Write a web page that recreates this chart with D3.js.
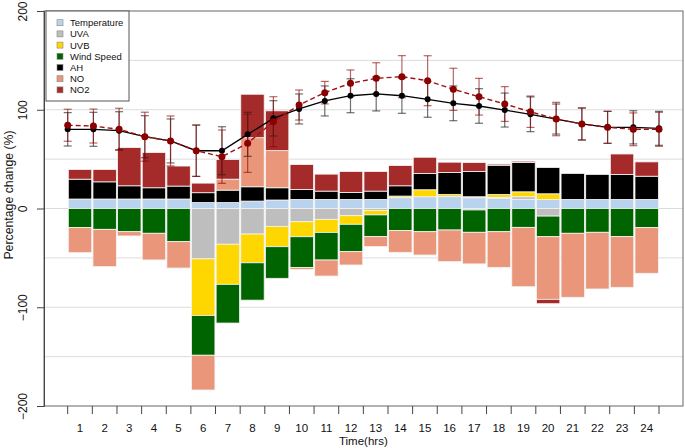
<!DOCTYPE html>
<html><head><meta charset="utf-8">
<script src="https://cdn.jsdelivr.net/npm/d3@7"></script>
<style>
body{margin:0;background:#fff}
svg{display:block}
text{font-family:"Liberation Sans",Arial,sans-serif}
</style>
</head><body>
<svg id="chart" width="685" height="448"></svg>
<script>
const hours = [1,2,3,4,5,6,7,8,9,10,11,12,13,14,15,16,17,18,19,20,21,22,23,24];
const seriesNames = ["Temperature","UVA","UVB","Wind Speed","AH","NO","NO2"];
const seriesColors = ["#B9D3EE","#BEBEBE","#FFD700","#006400","#000000","#E9967A","#A52A2A"];

const temperature = [9.6,9.6,9.6,9.6,9.6,6,6,7.5,8.6,9.2,9.2,9.2,9.2,10.9,11.9,12,10.9,10.3,9.2,9.2,9.2,9.2,9.2,9.2];
const uva         = [0,0,0,0,0,-51,-36.2,-25.9,-18.1,-13.4,-11,-7.3,-2,0,0,0,-1.5,1,2.7,-7.7,0,0,0,0];
const uvb         = [0,0,0,0,0,-57.4,-40.6,-29.1,-20.6,-15.2,-13.2,-8.7,-4.5,1.7,7.1,2.3,1,3,5,5.7,0,0,0,0];
const windSpeed   = [-19.4,-21.1,-23.5,-25.1,-33.6,-40.2,-39.2,-37.8,-32,-31.1,-28,-27.7,-22,-22.4,-23.5,-21.8,-22.6,-23.5,-19.1,-20.9,-25.1,-24.1,-28.5,-19.4];
const ah          = [20.1,17.4,13.4,11.4,13.1,10,12.6,14.5,12.4,10.1,8.4,7.1,8.4,10.4,16.5,22.2,25.6,29.5,29.6,26.6,26.3,25.3,25.3,23.5];
const no          = [-25.3,-37.8,-4.3,-27,-26.7,-35.2,11.1,49.7,37.6,-2,-16.2,-13.5,-10.1,-22,-23.6,-32,-32,-36.1,-60.1,-63.4,-64.8,-57.4,-51.3,-46.2];
const no2         = [9.8,12.5,38.7,35.6,20.3,9.7,19.9,44,40.3,25.2,17.2,21.2,19.9,20.5,16.4,10.4,9,1.2,1.4,-4.4,0,0,20.7,14.5];

const blackLine = [80.2,80.2,78.8,72.7,68.4,58.5,58.5,75.1,91.3,100.8,108.9,114.2,116,114.2,110.6,106.5,103.8,99.7,95.4,90.6,85.6,82.2,82.2,81.2];
const blackErr  = [16.9,17.2,19.2,21.3,22.3,26,24.3,22.3,17.9,15.2,15.2,17.2,17.2,17.8,18.2,17.6,17.5,17.2,17.6,15.2,16.2,16.2,16.8,17.2];
const redLine   = [84.3,83.5,80.2,72.7,68.4,58.5,52.5,66,87.9,104.8,117.3,126.8,131.8,133.5,129.4,120.7,113.2,105.8,98,90.6,85.6,82.2,80.2,80.2];
const redErr    = [16.2,17.2,21.3,24.8,25.3,26,27,29.4,25.3,15.2,11.4,13.5,15.8,21.3,25.3,21.3,18.6,17.6,15.9,16.9,16.2,16.2,16.6,17.2];

const yTickValues = [-200,-100,0,100,200];
const gridValues = [-150,-100,-50,0,50,100,150];

const seriesData = [temperature, uva, uvb, windSpeed, ah, no, no2];
const rows = hours.map((h,i)=>{
  const r = {hour:h};
  seriesNames.forEach((n,k)=>{ r[n] = seriesData[k][i]; });
  return r;
});

const svg = d3.select("#chart");
const L=44, R=683, T=11, B=406;
const x0 = 67.7, x1 = 659;

const y = d3.scaleLinear().domain([-200,200]).range([B,T]);
const xBand = d3.scaleBand().domain(hours).range([x0,x1]).paddingInner(0.05).paddingOuter(0.025);
const xPoint = d3.scalePoint().domain(hours).range([x0,x1]);
const color = d3.scaleOrdinal().domain(seriesNames).range(seriesColors);

// grid
svg.append("g").selectAll("line").data(gridValues).join("line")
  .attr("x1",L).attr("x2",R).attr("y1",d=>y(d)).attr("y2",d=>y(d))
  .attr("stroke","#dcdcdc").attr("stroke-width",1);

// stacked bars
const stack = d3.stack().keys(seriesNames).offset(d3.stackOffsetDiverging);
const stacked = stack(rows);
svg.append("g").selectAll("g").data(stacked).join("g")
  .attr("fill",d=>color(d.key))
  .selectAll("rect").data(d=>d.filter(s=>s[1]!==s[0])).join("rect")
  .attr("x",d=>xBand(d.data.hour))
  .attr("width",xBand.bandwidth())
  .attr("y",d=>y(Math.max(d[0],d[1])))
  .attr("height",d=>Math.abs(y(d[0])-y(d[1])))
  .attr("stroke","#f4f4f4").attr("stroke-width",0.8);

// error bars
function errorBars(vals, errs, col, op){
  const g = svg.append("g").attr("stroke",col).attr("stroke-opacity",op).attr("stroke-width",1.2);
  hours.forEach((h,i)=>{
    const cx = xPoint(h), top = y(vals[i]+errs[i]), bot = y(vals[i]-errs[i]);
    g.append("line").attr("x1",cx).attr("x2",cx).attr("y1",top).attr("y2",bot);
    g.append("line").attr("x1",cx-4).attr("x2",cx+4).attr("y1",top).attr("y2",top);
    g.append("line").attr("x1",cx-4).attr("x2",cx+4).attr("y1",bot).attr("y2",bot);
  });
}
errorBars(blackLine, blackErr, "#222", 0.65);
errorBars(redLine, redErr, "#8B0000", 0.6);

// lines
const lineGen = vals => d3.line().x((d,i)=>xPoint(hours[i])).y(d=>y(d))(vals);
svg.append("path").attr("d",lineGen(blackLine)).attr("fill","none").attr("stroke","#000").attr("stroke-width",1.3);
svg.append("path").attr("d",lineGen(redLine)).attr("fill","none").attr("stroke","#A01010").attr("stroke-width",1.4).attr("stroke-dasharray","5,3");
svg.append("g").selectAll("circle").data(blackLine).join("circle")
  .attr("cx",(d,i)=>xPoint(hours[i])).attr("cy",d=>y(d)).attr("r",3).attr("fill","#000");
svg.append("g").selectAll("circle").data(redLine).join("circle")
  .attr("cx",(d,i)=>xPoint(hours[i])).attr("cy",d=>y(d)).attr("r",3.5).attr("fill","#8B0000");

// box
svg.append("rect").attr("x",L).attr("y",T).attr("width",R-L).attr("height",B-T)
  .attr("fill","none").attr("stroke","#666").attr("stroke-width",1);

// y axis
const yAxis = svg.append("g").attr("transform",`translate(${L},0)`)
  .call(d3.axisLeft(y).tickValues(yTickValues).tickSize(7).tickFormat(d3.format("d")));
yAxis.select(".domain").attr("stroke","#444");
yAxis.selectAll(".tick line").attr("stroke","#444");
yAxis.selectAll(".tick text")
  .attr("font-size",12).attr("fill","#111")
  .attr("x",0).attr("dy",0)
  .attr("text-anchor","middle")
  .attr("transform","translate(-17,0) rotate(-90)");

// x axis ticks at bar boundaries
const step = xBand.step();
const edges = [0].concat(hours).map(k=> x0 + k*step);
svg.append("g").selectAll("line").data(edges).join("line")
  .attr("x1",d=>d).attr("x2",d=>d).attr("y1",B).attr("y2",B+8)
  .attr("stroke","#444");
svg.append("g").selectAll("text").data(hours).join("text")
  .attr("x",d=>xBand(d)+xBand.bandwidth()/2).attr("y",432)
  .attr("text-anchor","middle").attr("font-size",11.5).attr("fill","#111")
  .text(d=>d);

svg.append("text").attr("x",(x0+x1)/2).attr("y",445).attr("text-anchor","middle")
  .attr("font-size",11.5).attr("fill","#111").text("Time(hrs)");
svg.append("text").attr("transform","translate(13,195) rotate(-90)")
  .attr("text-anchor","middle").attr("font-size",12.3).attr("fill","#111").text("Percentage change (%)");

// legend
const lg = svg.append("g");
lg.append("rect").attr("x",46).attr("y",11).attr("width",83).attr("height",90)
  .attr("fill","#fff").attr("stroke","#555");
seriesNames.forEach((n,i)=>{
  const cy = 22.7 + i*11.2;
  lg.append("rect").attr("x",57).attr("y",cy-3).attr("width",6).attr("height",6)
    .attr("fill",seriesColors[i]).attr("stroke","#888").attr("stroke-width",0.6);
  lg.append("text").attr("x",70).attr("y",cy+3.5).attr("font-size",9.5).attr("fill","#111").text(n);
});
</script>
</body></html>
